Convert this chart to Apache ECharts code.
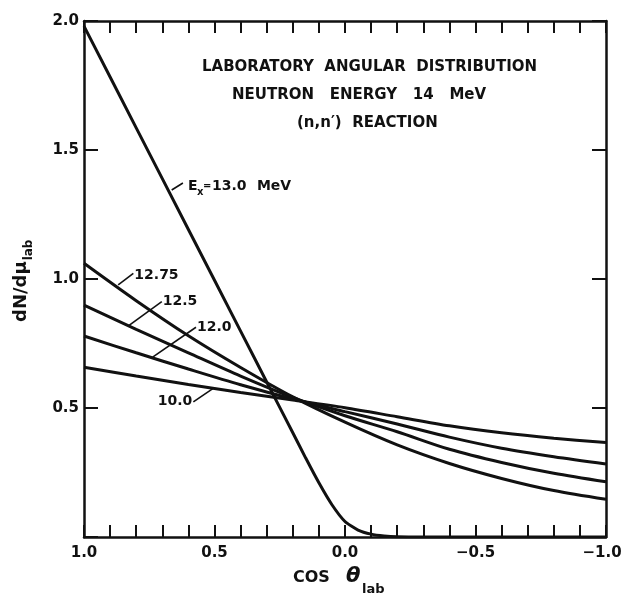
<!DOCTYPE html>
<html><head><meta charset="utf-8">
<script src="https://cdn.jsdelivr.net/npm/echarts@6/dist/echarts.min.js"></script>
<style>html,body{margin:0;padding:0;background:#fff;overflow:hidden;}#chart{width:623px;height:597px;}</style>
</head><body><div id="chart"></div>
<script>
// ---------- data ----------
const muGrid  = [1.0, 0.8, 0.6, 0.4, 0.2, 0.0, -0.2, -0.4, -0.6, -0.8, -1.0];
const ex10_0  = [0.658, 0.624, 0.591, 0.560, 0.531, 0.501, 0.466, 0.431, 0.404, 0.383, 0.366];
const ex12_0  = [0.779, 0.714, 0.651, 0.590, 0.535, 0.486, 0.438, 0.387, 0.344, 0.311, 0.283];
const ex12_5  = [0.899, 0.805, 0.714, 0.624, 0.541, 0.470, 0.408, 0.340, 0.289, 0.247, 0.214];
const ex12_75 = [1.061, 0.916, 0.780, 0.657, 0.543, 0.445, 0.357, 0.285, 0.227, 0.180, 0.146];
const mu13    = [1.0, 0.8, 0.6, 0.4, 0.3, 0.2, 0.15, 0.1, 0.05, 0.0, -0.05, -0.1, -0.15, -0.2, -0.3, -0.5, -1.0];
const ex13_0  = [1.98, 1.586, 1.192, 0.798, 0.601, 0.404, 0.305, 0.21, 0.125, 0.06, 0.027, 0.011, 0.004, 0.001, 0, 0, 0];
const curveLabels = ['13.0', '12.75', '12.5', '12.0', '10.0'];
const titleLines = ['LABORATORY  ANGULAR  DISTRIBUTION', 'NEUTRON   ENERGY   14   MeV', '(n,n\u2032)  REACTION'];

// ---------- annotation placement (data coordinates: curve point -> label end) ----------
const leaders = [
  [[0.664, 1.345], [0.621, 1.372]],
  [[0.869, 0.977], [0.811, 1.022]],
  [[0.830, 0.818], [0.702, 0.912]],
  [[0.737, 0.697], [0.571, 0.813]],
  [[0.505, 0.576], [0.581, 0.524]]
];

const FONT = 'DejaVu Sans';
const BLACK = '#111';
const cv = document.createElement('canvas').getContext('2d');
function tw(t, size, weight) { cv.font = (weight || 'bold') + ' ' + size + 'px "' + FONT + '"'; return cv.measureText(t).width; }

const chart = echarts.init(document.getElementById('chart'), null, {renderer: 'canvas'});

function curve(name, xs, ys, smooth) {
  return {type: 'line', name, data: xs.map((x, i) => [x, ys[i]]), symbol: 'none', smooth: smooth,
    lineStyle: {color: BLACK, width: 3}, z: 3, animation: false, silent: true};
}
function fmtX(v) {
  if (Math.abs(v) < 1e-9) return '0.0';
  const s = (v < 0 ? '\u2212' : '') + Math.abs(v).toFixed(1);
  return v <= -1 ? '{edge|' + s + '}' : s;
}

const axisCommon = {
  type: 'value', min: -1, max: 1, interval: 0.5, inverse: true,
  axisLine: {show: true, onZero: false, lineStyle: {color: BLACK, width: 2.5}},
  axisTick: {show: true, inside: true, length: 12, lineStyle: {color: BLACK, width: 2}},
  minorTick: {show: true, splitNumber: 5, length: 12, lineStyle: {color: BLACK, width: 2}},
  splitLine: {show: false}, minorSplitLine: {show: false}
};
const yCommon = {
  type: 'value', min: 0, max: 2, interval: 0.5,
  axisLine: {show: true, onZero: false, lineStyle: {color: BLACK, width: 2.5}},
  axisTick: {show: true, inside: true, length: 14, lineStyle: {color: BLACK, width: 2}},
  splitLine: {show: false}
};

const series = [
  curve('13.0', mu13, ex13_0, 0.2),
  curve('12.75', muGrid, ex12_75, 0.3),
  curve('12.5', muGrid, ex12_5, 0.3),
  curve('12.0', muGrid, ex12_0, 0.3),
  curve('10.0', muGrid, ex10_0, 0.3)
];
leaders.forEach((l) => series.push({type: 'line', data: l, symbol: 'none', smooth: false,
  lineStyle: {color: BLACK, width: 1.6}, z: 4, animation: false, silent: true}));

chart.setOption({
  animation: false,
  backgroundColor: '#fff',
  grid: {left: 84, right: 17, top: 21, bottom: 60, outerBoundsMode: 'none'},
  xAxis: [
    Object.assign({}, axisCommon, {position: 'bottom',
      axisLabel: {show: true, margin: 9, color: BLACK, fontFamily: FONT, fontWeight: 'bold', fontSize: 15, formatter: fmtX,
        rich: {edge: {fontFamily: FONT, fontWeight: 'bold', fontSize: 15, color: BLACK, padding: [0, 8, 0, 0]}}}}),
    Object.assign({}, axisCommon, {position: 'top', axisLabel: {show: false}})
  ],
  yAxis: [
    Object.assign({}, yCommon, {position: 'left',
      axisLabel: {show: true, margin: 5, color: BLACK, fontFamily: FONT, fontWeight: 'bold', fontSize: 15,
        formatter: v => (v === 0 ? '' : v.toFixed(1))}}),
    Object.assign({}, yCommon, {position: 'right', axisLabel: {show: false}})
  ],
  series: series
});

// ---------- texts ----------
const g = [];
function txt(x, y, t, size, extra) {
  g.push({type: 'text', x: x, y: y, silent: true, z: 10,
    style: Object.assign({text: t, fill: BLACK, font: 'bold ' + size + 'px "' + FONT + '"', textAlign: 'left', textVerticalAlign: 'middle'}, extra || {})});
}
// title block
txt(202, 67, titleLines[0], 15);
txt(232, 95, titleLines[1], 15);
txt(297, 123, titleLines[2], 15);

// curve labels
const P = leaders.map(l => chart.convertToPixel({xAxisIndex: 0, yAxisIndex: 0}, l[1]));
{
  const x0 = P[0][0] + 5, y0 = P[0][1] + 3;
  txt(x0, y0, 'E', 14);
  txt(x0 + 9, y0 + 6, 'x', 10);
  txt(x0 + 15, y0, '=', 10);
  txt(x0 + 24, y0, curveLabels[0], 14);
  txt(x0 + 69, y0, 'MeV', 14);
}
txt(P[1][0] + 1, P[1][1] + 2, curveLabels[1], 14);
txt(P[2][0] + 1, P[2][1], curveLabels[2], 14);
txt(P[3][0] + 1, P[3][1], curveLabels[3], 14);
txt(P[4][0] - 1, P[4][1], curveLabels[4], 14, {textAlign: 'right'});

// x axis name: COS θ_lab
{
  const x0 = 293, y0 = 578;
  txt(x0, y0, 'COS', 16);
  txt(346, y0 - 1, '\u03B8', 21, {font: 'bold italic 21px "' + FONT + '"'});
  txt(362, y0 + 12, 'lab', 13);
}
// y axis name: dN/dμ_lab (rotated)
{
  const main = 'dN/d\u03BC';
  const wm = tw(main, 18);
  g.push({type: 'group', x: 21, y: 322, rotation: Math.PI / 2, silent: true, children: [
    {type: 'text', x: 0, y: 0, style: {text: main, fill: BLACK, font: 'bold 18px "' + FONT + '"', textAlign: 'left', textVerticalAlign: 'middle'}},
    {type: 'text', x: wm + 1, y: 8, style: {text: 'lab', fill: BLACK, font: 'bold 12px "' + FONT + '"', textAlign: 'left', textVerticalAlign: 'middle'}}
  ]});
}
chart.setOption({graphic: g});
</script>
</body></html>
